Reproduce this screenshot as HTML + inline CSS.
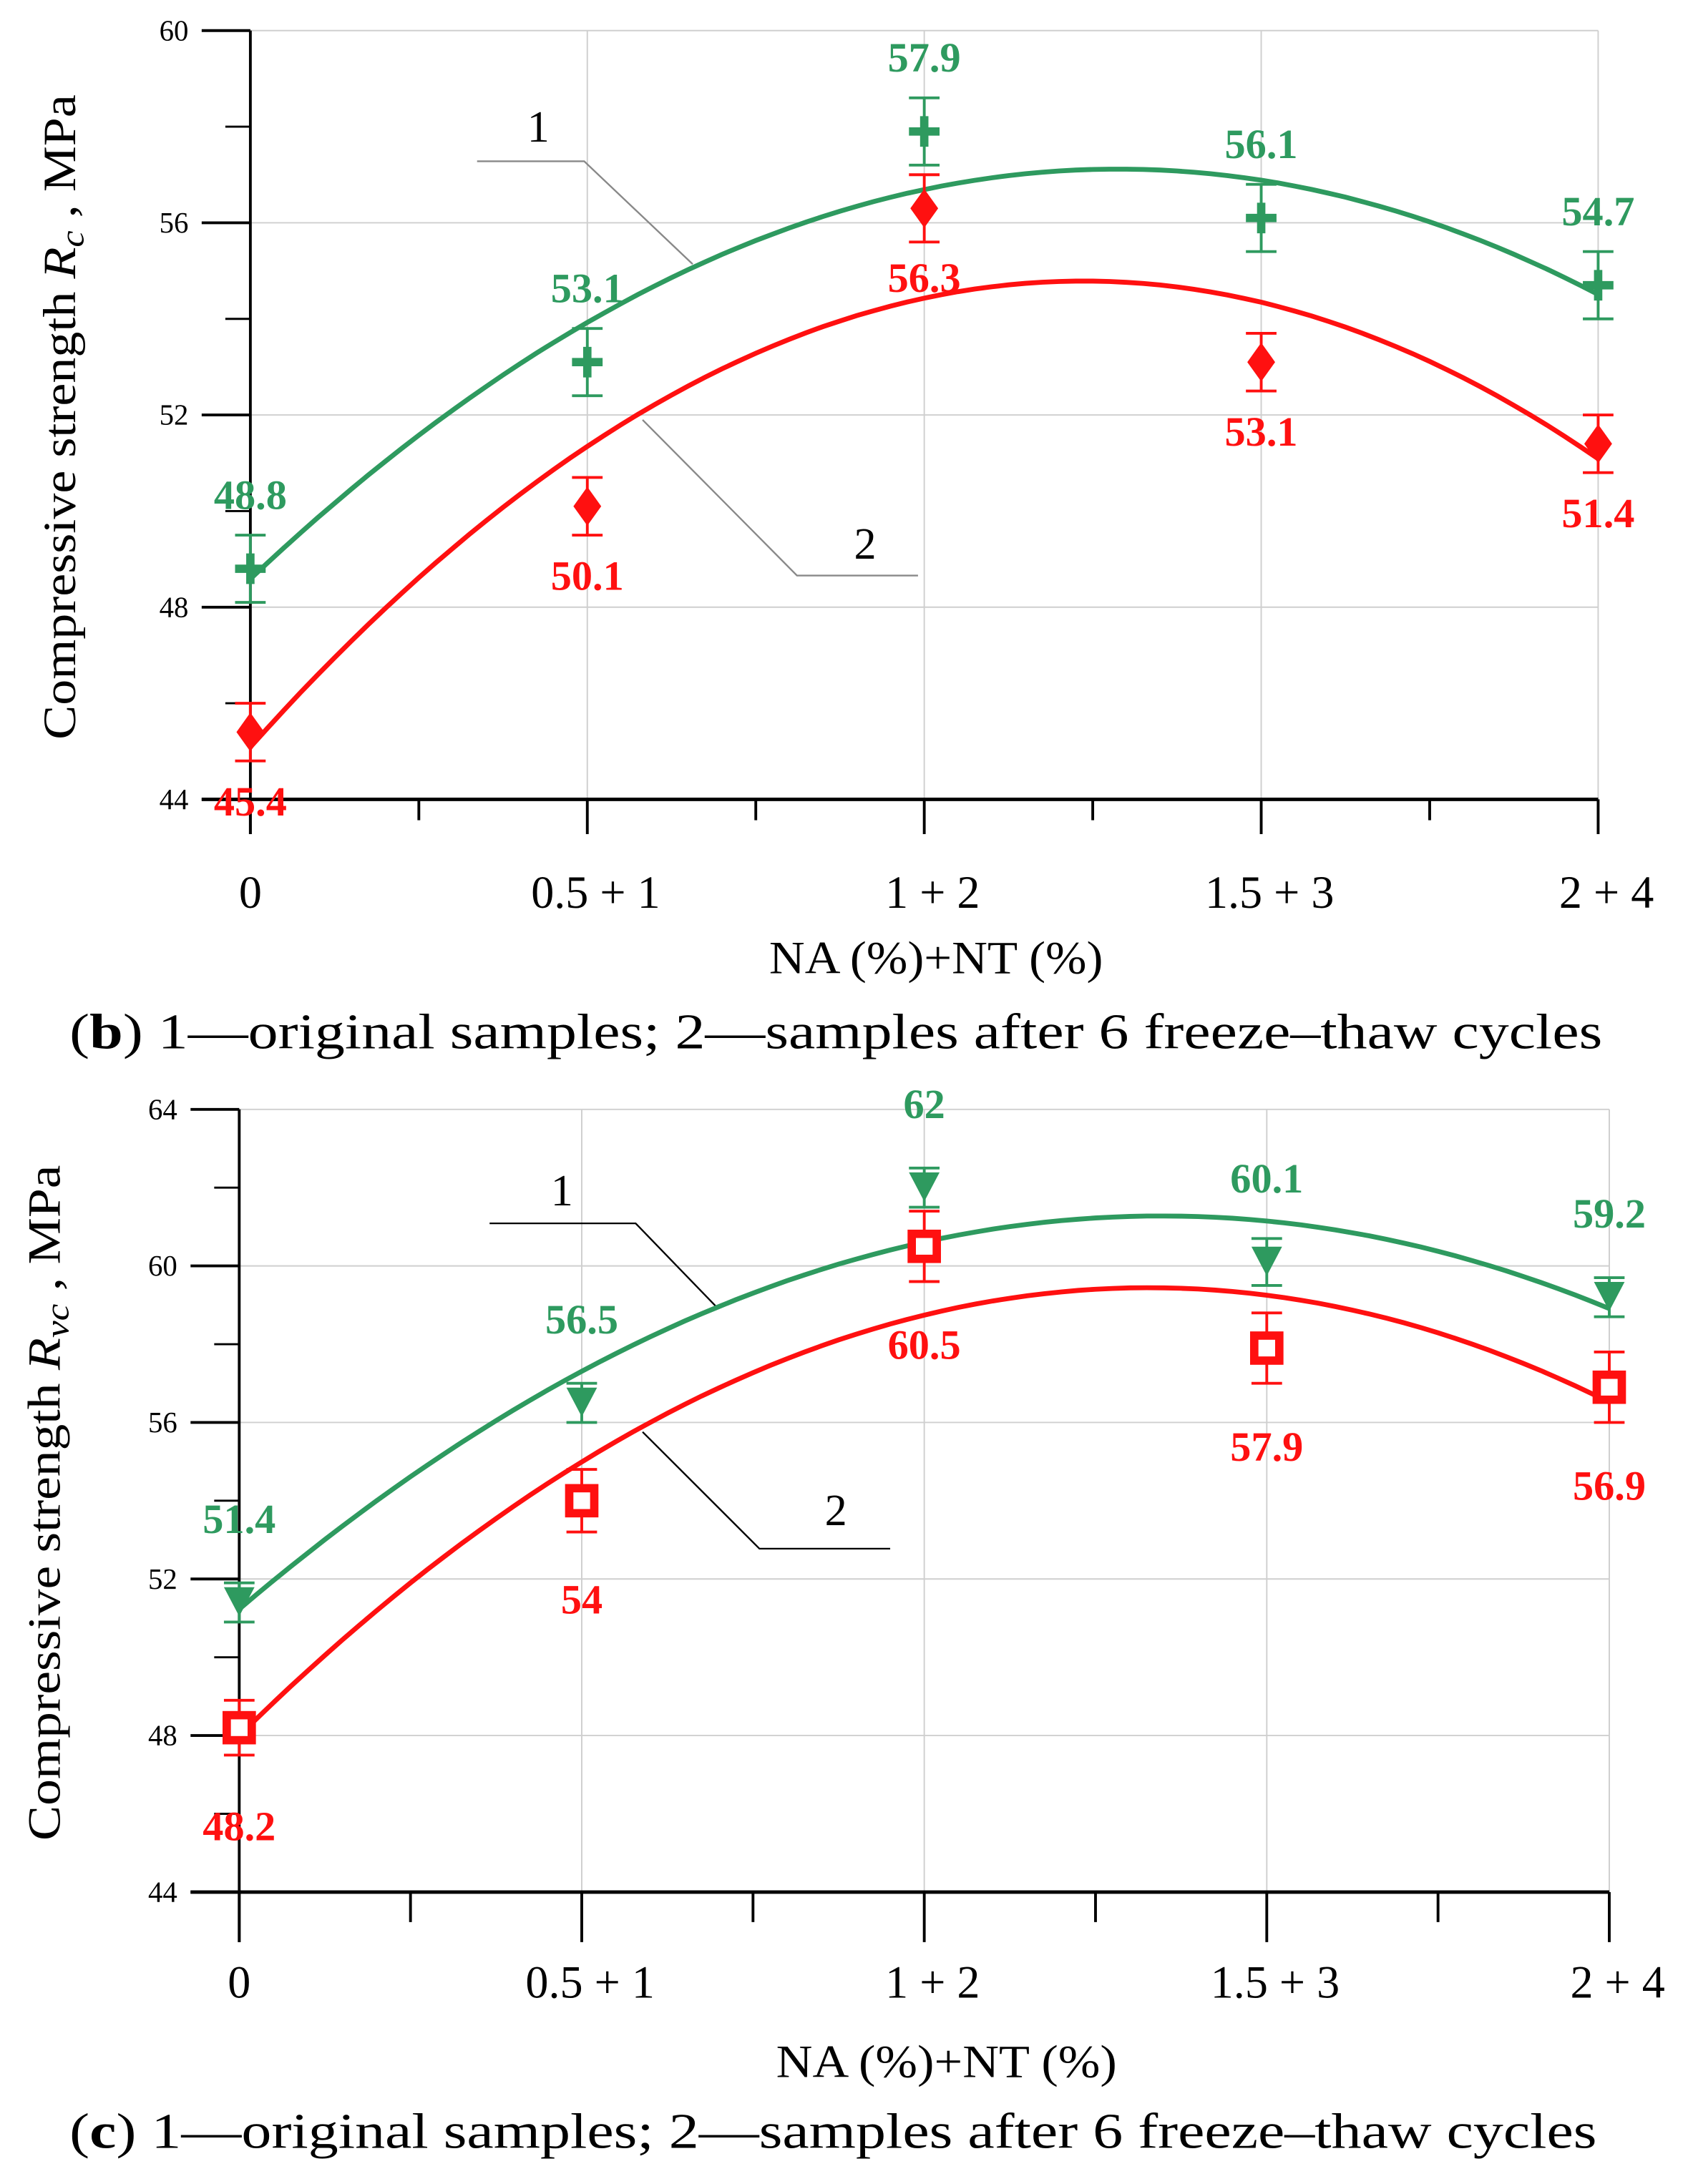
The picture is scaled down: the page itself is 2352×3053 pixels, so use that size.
<!DOCTYPE html>
<html><head><meta charset="utf-8"><style>
html,body{margin:0;padding:0;background:#fff}
svg{display:block}
text{font-family:"Liberation Serif",serif}
</style></head><body>
<svg id="fig" width="2352" height="3053" viewBox="0 0 1210 1571" preserveAspectRatio="none" xmlns="http://www.w3.org/2000/svg"></svg>
<script>
const categories = ["0", "0.5 + 1", "1 + 2", "1.5 + 3", "2 + 4"];
const topOriginal = [48.8, 53.1, 57.9, 56.1, 54.7];
const topFrozen = [45.4, 50.1, 56.3, 53.1, 51.4];
const topErrOriginal = [0.7, 0.7, 0.7, 0.7, 0.7];
const topErrFrozen = [0.6, 0.6, 0.7, 0.6, 0.6];
const topYTicks = [44, 48, 52, 56, 60];
const botOriginal = [51.4, 56.5, 62, 60.1, 59.2];
const botFrozen = [48.2, 54, 60.5, 57.9, 56.9];
const botErrOriginal = [0.5, 0.5, 0.5, 0.6, 0.5];
const botErrFrozen = [0.7, 0.8, 0.9, 0.9, 0.9];
const botYTicks = [44, 48, 52, 56, 60, 64];

const NS = "http://www.w3.org/2000/svg";
const svg = document.getElementById('fig');
const GREEN = "#2e9a5f", RED = "#ff1010";
function mk(tag, attrs, parent, txt) {
  const e = document.createElementNS(NS, tag);
  for (const k in attrs) e.setAttribute(k, attrs[k]);
  if (txt !== undefined) e.textContent = txt;
  (parent || svg).appendChild(e);
  return e;
}
function quadFit(ys) {
  let S = [0,0,0,0,0], T = [0,0,0];
  ys.forEach((y, x) => { for (let p = 0; p < 5; p++) S[p] += Math.pow(x, p); for (let p = 0; p < 3; p++) T[p] += y * Math.pow(x, p); });
  const M = [[S[0],S[1],S[2],T[0]],[S[1],S[2],S[3],T[1]],[S[2],S[3],S[4],T[2]]];
  for (let i = 0; i < 3; i++) { for (let j = i+1; j < 3; j++) { const f = M[j][i]/M[i][i]; for (let k = i; k < 4; k++) M[j][k] -= f*M[i][k]; } }
  const r = [0,0,0];
  for (let i = 2; i >= 0; i--) { let s = M[i][3]; for (let k = i+1; k < 3; k++) s -= M[i][k]*r[k]; r[i] = s/M[i][i]; }
  return x => r[0] + r[1]*x + r[2]*x*x;
}

function chart(cfg) {
  const g = mk('g', {}, svg);
  
  
  const x0 = cfg.x0, dx = cfg.dx, yMin = cfg.ticks[0], yMax = cfg.ticks[cfg.ticks.length-1];
  const X = i => x0 + i*dx;
  const Y = v => cfg.yBot - (v - yMin) / (yMax - yMin) * (cfg.yBot - cfg.yTop);
  const xEnd = X(categories.length - 1);
  cfg.ticks.forEach(t => { if (t > yMin) { const l = mk('line', {x1:x0, x2:xEnd, y1:Y(t), y2:Y(t), stroke:"#cfcfcf", "stroke-width":1}, g);   } });
  categories.forEach((c, i) => { if (i > 0) { const l = mk('line', {x1:X(i), x2:X(i), y1:cfg.yTop, y2:cfg.yBot, stroke:"#cfcfcf", "stroke-width":1}, g);   } });
  const ya = mk('line', {x1:x0, x2:x0, y1:cfg.yTop, y2:cfg.yBot + cfg.majLen, stroke:"#000", "stroke-width":2}, g);
   
  const xa = mk('line', {x1:x0 - 35, x2:xEnd, y1:cfg.yBot, y2:cfg.yBot, stroke:"#000", "stroke-width":2.5}, g);
   
  cfg.ticks.forEach((t, k) => {
    const l = mk('line', {x1:x0 - 35, x2:x0, y1:Y(t), y2:Y(t), stroke:"#000", "stroke-width":2}, g);
     
    const tx = mk('text', {x:x0 - 55, y:Y(t) + 7, "font-size":21, "text-anchor":"middle"}, g, String(t));
     
    if (k < cfg.ticks.length - 1) {
      const m = mk('line', {x1:x0 - 18, x2:x0, y1:Y(t + 2), y2:Y(t + 2), stroke:"#000", "stroke-width":1.5}, g);
       
    }
  });
  categories.forEach((c, i) => {
    const l = mk('line', {x1:X(i), x2:X(i), y1:cfg.yBot, y2:cfg.yBot + cfg.majLen, stroke:"#000", "stroke-width":2}, g);
     
    if (i < categories.length - 1) {
      const m = mk('line', {x1:X(i + 0.5), x2:X(i + 0.5), y1:cfg.yBot, y2:cfg.yBot + cfg.majLen*0.6, stroke:"#000", "stroke-width":2}, g);
       
    }
    const tx = mk('text', {x:X(i) + (i ? 6 : 0), y:cfg.xLabY, "font-size":33, "text-anchor":"middle"}, g, c);
     
  });
  const xt = mk('text', {x:cfg.xTitleX, y:cfg.xTitleY, "font-size":33, textLength:cfg.xTitleLen, lengthAdjust:"spacingAndGlyphs"}, g, "NA (%)+NT (%)");
   
  const yt = mk('text', {transform:`translate(${cfg.yTitleX},${cfg.yTitleBottom}) rotate(-90)`, "font-size":33, textLength:cfg.yTitleLen, lengthAdjust:"spacingAndGlyphs"}, g);
   
  mk('tspan', {}, yt, "Compressive strength ");
  mk('tspan', {"font-style":"italic"}, yt, "R");
  mk('tspan', {"font-style":"italic", "font-size":24, dy:6}, yt, cfg.sub);
  mk('tspan', {dy:-6}, yt, " , MPa");
  const cap = mk('text', {x:50, y:cfg.capY, "font-size":36, textLength:cfg.capLen, lengthAdjust:"spacingAndGlyphs"}, g);
   
  mk('tspan', {}, cap, "(");
  mk('tspan', {"font-weight":"bold"}, cap, cfg.letter);
  mk('tspan', {}, cap, ") 1\u2014original samples; 2\u2014samples after 6 freeze\u2013thaw cycles");
  cfg.leaders.forEach(L => {
    const p = mk('polyline', {points:L.pts, fill:"none", stroke:cfg.leaderColor, "stroke-width":1.2}, g);
     
    const t = mk('text', {x:L.tx, y:L.ty, "font-size":32, "text-anchor":"middle"}, g, L.label);
     
  });
  cfg.series.forEach(s => {
    const f = quadFit(s.values);
    let d = "";
    for (let k = 0; k <= 80; k++) { const xi = k / 80 * (categories.length - 1); d += (k ? "L" : "M") + X(xi).toFixed(1) + "," + Y(f(xi)).toFixed(1); }
    const c = mk('path', {d, fill:"none", stroke:s.color, "stroke-width":3.5}, g);
     
    s.values.forEach((v, i) => {
      const cx = X(i), cy = Y(v), e = s.err[i];
      const eb = mk('path', {d:`M${cx},${Y(v+e)}V${Y(v-e)}M${cx-11},${Y(v+e)}H${cx+11}M${cx-11},${Y(v-e)}H${cx+11}`, stroke:s.color, "stroke-width":2, fill:"none"}, g);
       
      let m;
      if (s.marker === 'plus') m = mk('path', {d:`M${cx-11},${cy}H${cx+11}M${cx},${cy-11}V${cy+11}`, stroke:s.color, "stroke-width":6}, g);
      else if (s.marker === 'diamond') m = mk('path', {d:`M${cx},${cy-14}L${cx+10},${cy}L${cx},${cy+14}L${cx-10},${cy}Z`, fill:s.color}, g);
      else if (s.marker === 'tri') m = mk('path', {d:`M${cx-11},${cy-11}L${cx+11},${cy-11}L${cx},${cy+10}Z`, fill:s.color}, g);
      else m = mk('rect', {x:cx-9, y:cy-9, width:18, height:18, fill:"#fff", stroke:s.color, "stroke-width":6}, g);
       
      const t = mk('text', {x:cx, y:cy + s.labOff, "font-size":30, "font-weight":"bold", fill:s.color, "text-anchor":"middle"}, g, String(v));
       
    });
  });
}

chart({name:"chart-b", x0:180, dx:242.25, yTop:22, yBot:575, ticks:topYTicks, majLen:25, xLabY:653, xTitleY:700, xTitleX:553, xTitleLen:240, yTitleX:54, yTitleBottom:532, yTitleLen:464, capY:754, capLen:1102, letter:"b", sub:"c", leaderColor:"#888",
  leaders:[{label:"1", pts:"343,116 420,116 498,190", tx:387, ty:102},{label:"2", pts:"660,414 573,414 462,302", tx:622, ty:402}],
  series:[{name:"original", values:topOriginal, err:topErrOriginal, color:GREEN, marker:"plus", labOff:-43},
          {name:"freeze-thaw", values:topFrozen, err:topErrFrozen, color:RED, marker:"diamond", labOff:60}]});
chart({name:"chart-c", x0:172, dx:246.25, yTop:798, yBot:1361, ticks:botYTicks, majLen:36, xLabY:1437, xTitleY:1494, xTitleX:558, xTitleLen:245, yTitleX:43, yTitleBottom:1324, yTitleLen:486, capY:1545, capLen:1098, letter:"c", sub:"vc", leaderColor:"#000",
  leaders:[{label:"1", pts:"352,880 457,880 515,940", tx:404, ty:867},{label:"2", pts:"640,1114 546,1114 462,1030", tx:601, ty:1097}],
  series:[{name:"original", values:botOriginal, err:botErrOriginal, color:GREEN, marker:"tri", labOff:-50},
          {name:"freeze-thaw", values:botFrozen, err:botErrFrozen, color:RED, marker:"square", labOff:81}]});
</script>
</body></html>
